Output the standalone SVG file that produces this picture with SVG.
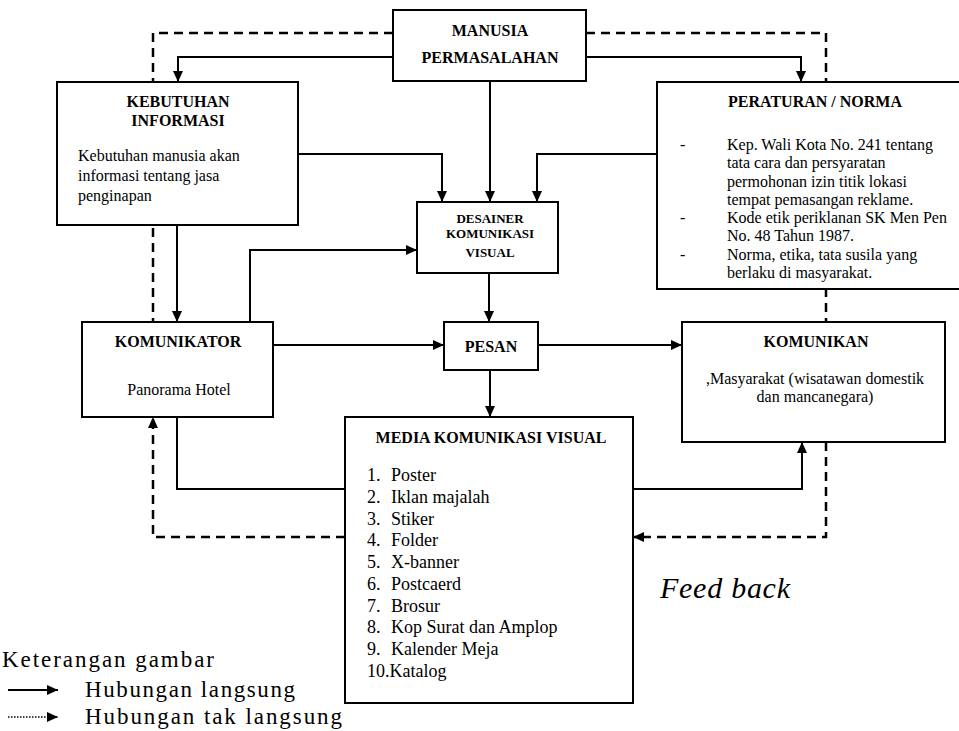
<svg xmlns="http://www.w3.org/2000/svg" width="959" height="731" viewBox="0 0 959 731">
<style>
text{font-family:"Liberation Serif","Times New Roman",serif;fill:#000}
.t{font-size:16px;font-weight:bold;text-anchor:middle}
.b{font-size:16px}
.c{text-anchor:middle}
.d{font-size:13px;font-weight:bold;text-anchor:middle}
.m{font-size:18px}
.lg{font-size:23px}
.box{fill:#fff;stroke:#000;stroke-width:2}
.ln{fill:none;stroke:#000;stroke-width:2}
.ds{fill:none;stroke:#000;stroke-width:2.5;stroke-dasharray:9 6}
</style>
<defs>
<marker id="ah" markerUnits="userSpaceOnUse" markerWidth="12" markerHeight="10" refX="11" refY="5" orient="auto">
<path d="M0,0 L11,5 L0,10 Z" fill="#000"/>
</marker>
</defs>
<g id="connectors">
<path class="ln" d="M393,57 H178 V82" marker-end="url(#ah)"/>
<path class="ln" d="M586,57 H801 V82" marker-end="url(#ah)"/>
<path class="ln" d="M490,81 V202" marker-end="url(#ah)"/>
<path class="ln" d="M298,154 H442 V202" marker-end="url(#ah)"/>
<path class="ln" d="M657,154 H537 V202" marker-end="url(#ah)"/>
<path class="ln" d="M177,225 V322" marker-end="url(#ah)"/>
<path class="ln" d="M250,322 V250 H417" marker-end="url(#ah)"/>
<path class="ln" d="M489,273 V322" marker-end="url(#ah)"/>
<path class="ln" d="M273,345 H444" marker-end="url(#ah)"/>
<path class="ln" d="M538,345 H682" marker-end="url(#ah)"/>
<path class="ln" d="M490,370 V417" marker-end="url(#ah)"/>
<path class="ln" d="M177,417 V489 H345"/>
<path class="ln" d="M633,489 H802 V442" marker-end="url(#ah)"/>
<path class="ds" d="M393,33 H153 V322"/>
<path class="ds" d="M586,33 H826 V322"/>
<path class="ds" d="M826,442 V537 H633" marker-end="url(#ah)"/>
<path class="ds" d="M345,537 H153 V417" marker-end="url(#ah)"/>
</g>
<g id="manusia">
<rect class="box" x="393" y="10" width="193" height="71"/>
<text class="t" x="490" y="36">MANUSIA</text>
<text class="t" x="490" y="63">PERMASALAHAN</text>
</g>
<g id="kebutuhan">
<rect class="box" x="57" y="82" width="241" height="143"/>
<text class="t" x="178" y="107">KEBUTUHAN</text>
<text class="t" x="178" y="126">INFORMASI</text>
<text class="b" x="78" y="161">Kebutuhan manusia akan</text>
<text class="b" x="78" y="181">informasi tentang jasa</text>
<text class="b" x="78" y="201">penginapan</text>
</g>
<g id="peraturan">
<rect class="box" x="657" y="82" width="310" height="207"/>
<text class="t" x="815" y="107">PERATURAN / NORMA</text>
<text class="b" x="680" y="150">-</text>
<text class="b" x="727" y="150">Kep. Wali Kota No. 241 tentang</text>
<text class="b" x="727" y="168">tata cara dan persyaratan</text>
<text class="b" x="727" y="187">permohonan izin titik lokasi</text>
<text class="b" x="727" y="205">tempat pemasangan reklame.</text>
<text class="b" x="680" y="223">-</text>
<text class="b" x="727" y="223">Kode etik periklanan SK Men Pen</text>
<text class="b" x="727" y="241">No. 48 Tahun 1987.</text>
<text class="b" x="680" y="260">-</text>
<text class="b" x="727" y="260">Norma, etika, tata susila yang</text>
<text class="b" x="727" y="278">berlaku di masyarakat.</text>
</g>
<g id="desainer">
<rect class="box" x="417" y="202" width="141" height="71"/>
<text class="d" x="490" y="223">DESAINER</text>
<text class="d" x="490" y="238">KOMUNIKASI</text>
<text class="d" x="490" y="257">VISUAL</text>
</g>
<g id="pesan">
<rect class="box" x="444" y="322" width="94" height="48"/>
<text class="t" x="491" y="352">PESAN</text>
</g>
<g id="komunikator">
<rect class="box" x="82" y="322" width="191" height="95"/>
<text class="t" x="178" y="347">KOMUNIKATOR</text>
<text class="b c" x="179" y="395">Panorama Hotel</text>
</g>
<g id="komunikan">
<rect class="box" x="682" y="322" width="263" height="120"/>
<text class="t" x="816" y="347">KOMUNIKAN</text>
<text class="b c" x="815" y="384">,Masyarakat (wisatawan domestik</text>
<text class="b c" x="815" y="402">dan mancanegara)</text>
</g>
<g id="media">
<rect class="box" x="345" y="417" width="288" height="286"/>
<text class="t" x="491" y="443">MEDIA KOMUNIKASI VISUAL</text>
<text class="m" x="367" y="481">1.</text><text class="m" x="391" y="481">Poster</text>
<text class="m" x="367" y="503">2.</text><text class="m" x="391" y="503">Iklan majalah</text>
<text class="m" x="367" y="525">3.</text><text class="m" x="391" y="525">Stiker</text>
<text class="m" x="367" y="546">4.</text><text class="m" x="391" y="546">Folder</text>
<text class="m" x="367" y="568">5.</text><text class="m" x="391" y="568">X-banner</text>
<text class="m" x="367" y="590">6.</text><text class="m" x="391" y="590">Postcaerd</text>
<text class="m" x="367" y="612">7.</text><text class="m" x="391" y="612">Brosur</text>
<text class="m" x="367" y="633">8.</text><text class="m" x="391" y="633">Kop Surat dan Amplop</text>
<text class="m" x="367" y="655">9.</text><text class="m" x="391" y="655">Kalender Meja</text>
<text class="m" x="367" y="677">10.Katalog</text>
</g>
<g id="feedback">
<text x="660" y="598" font-size="30" font-style="italic" textLength="130" lengthAdjust="spacing">Feed back</text>
</g>
<g id="legend">
<text class="lg" x="2" y="667" textLength="212" lengthAdjust="spacing">Keterangan gambar</text>
<path class="ln" d="M8,690 H58" marker-end="url(#ah)"/>
<path d="M8,717 H58" fill="none" stroke="#000" stroke-width="1.5" stroke-dasharray="1.5 1.5" marker-end="url(#ah)"/>
<text class="lg" x="85" y="697" textLength="210" lengthAdjust="spacing">Hubungan langsung</text>
<text class="lg" x="85" y="724" textLength="257" lengthAdjust="spacing">Hubungan tak langsung</text>
</g>
</svg>
